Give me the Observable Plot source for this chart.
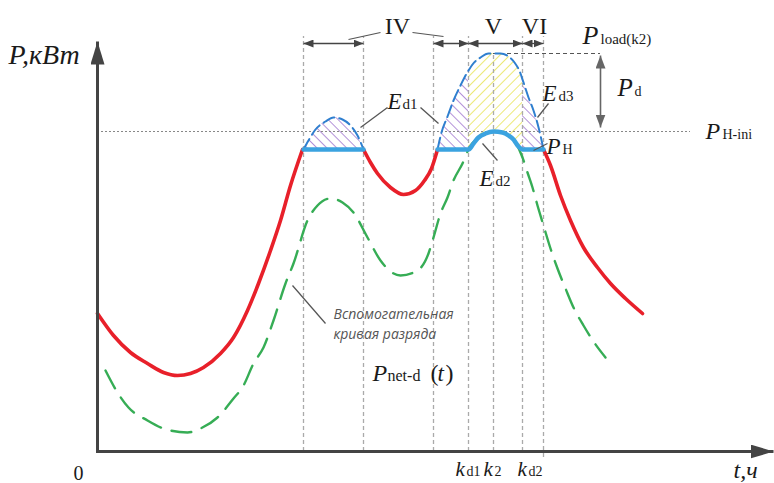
<!DOCTYPE html>
<html><head><meta charset="utf-8">
<script src="https://cdn.jsdelivr.net/npm/d3@7"></script>
<script src="https://cdn.jsdelivr.net/npm/@observablehq/plot@0.6"></script>
<style>body{margin:0;background:#fff}</style>
</head><body><div id="chart"></div>
<script>
// ---- data (t = time units, P = power units) ----
const P_H = 302;        // flat discharge level P_H
const P_HINI = 320;     // P_H-ini
const P_LOAD_K2 = 398;  // P_load(k2)
const redLeft  = [[0,138],[16,116],[33,99],[50,88],[66,79],[80,76],[93,78],[106,84],[123,98],[136,114],[150,141],[161,168],[173,201],[183,231],[193,266],[205,302]];
const redDip   = [[266,302],[273,289],[280,278],[293,264],[306,257],[318,261],[327,271],[334,283],[340,302]];
const redRight = [[446,302],[453,286],[463,256],[473,231],[486,204],[500,184],[513,168],[528,153],[545,138]];
const blueFlatA = [[206,302],[266,302]];
const blueFlatB = [[340,302],[371,302],[376,308],[381,314],[388,318],[396,320],[405,319],[411,316],[416,312],[421,305],[425,302],[446,302]];
const loadBump1 = [[206,302],[211,311],[218,322],[228,330],[236,334],[245,332],[253,326],[260,316],[266,302]];
const loadBump2 = [[340,302],[344,319],[350,335],[356,351],[363,366],[368,376],[371,381],[375,387],[383,394],[391,398],[403,398],[411,395],[417,389],[423,378],[425,372],[427,366],[431,354],[436,341],[440,328],[443,316],[446,302]];
const auxCurve = [[8,81],[20,59],[31,44],[50,31],[66,23],[90,19],[103,23],[120,34],[136,53],[146,66],[156,88],[166,104],[176,131],[188,168],[196,188],[210,231],[220,246],[233,253],[245,249],[256,239],[270,214],[283,191],[303,176],[320,181],[331,198],[336,214],[343,238],[350,254],[356,271],[365,288],[371,302],[381,314],[388,318],[396,320],[405,319],[411,316],[416,312],[425,294],[430,279],[435,264],[440,246],[446,226],[453,203],[460,183],[468,163],[476,144],[486,126],[496,110],[508,94]];
const guideT   = [206,266,336,371,396,425,446];
const guideTop = [415,415,415,415,399,415,415];
const guideBot = [0,0,0,0,0,0,-6];
const spans    = [[206,266],[336,371],[371,425],[425,446]];
const romanLabels = ["IV","V","VI"];
const romanT      = [300,396,437];
const kNames = ["k","k","k"];
const kSubs  = ["d1","2","d2"];
const kT     = [358,386,420];
const kSubT  = [369,397,431];
const auxText = ["Вспомогательная","кривая разряда"];
const leaders = [[251,412,283,419],[315,419,346,415],[263,324,290,344],[323,344,341,328],[385,308,400,291],[440,334,451,348],[436,301,450,308],[195,166,228,128]];

// ---- build tables ----
const pts = (arr) => arr.map(([t,P]) => ({t,P}));
const seg = (arr, s) => arr.map(([t,P]) => ({t,P,s}));
const red = [...seg(redLeft,"a"), ...seg(redDip,"b"), ...seg(redRight,"c")];
const blue = [...seg(blueFlatA,"a"), ...seg(blueFlatB,"b")];
const bump2 = pts(loadBump2);
const guides = guideT.map((t,i)=>({t, top:guideTop[i], bot:guideBot[i]}));
const spanRows = spans.map(([a,b])=>({a,b,P:408}));
const leaderRows = leaders.map(([t1,P1,t2,P2])=>({t1,P1,t2,P2}));

const italicMain = [
  {t:-89,P:388,s:"P,кВт",z:28},
  {t:636,P:-26,s:"t,ч",z:24},
  ...kNames.map((s,i)=>({t:kT[i],P:-24,s,z:21})),
  {t:290,P:343,s:"E",z:23},
  {t:382,P:266,s:"E",z:23},
  {t:445,P:351,s:"E",z:23},
  {t:449,P:298,s:"P",z:23},
  {t:485,P:408,s:"P",z:26},
  {t:520,P:356,s:"P",z:25},
  {t:608,P:313,s:"P",z:24},
  {t:275,P:71,s:"P",z:24},
  {t:340,P:71,s:"t",z:23}
];
const subs = [
  ...kSubs.map((s,i)=>({t:kSubT[i],P:-24,s,z:14})),
  {t:305,P:343,s:"d1",z:15},
  {t:398,P:266,s:"d2",z:15},
  {t:461,P:351,s:"d3",z:15},
  {t:465,P:298,s:"H",z:14},
  {t:503,P:408,s:"load(k2)",z:15},
  {t:537,P:356,s:"d",z:14},
  {t:625,P:313,s:"H-ini",z:14},
  {t:290,P:71,s:"net-d",z:16},
  {t:333,P:71,s:"(",z:24},
  {t:348,P:71,s:")",z:24}
];
const roman = romanLabels.map((s,i)=>({t:romanT[i],P:418,s}));

const serif = "Liberation Serif, Times New Roman, serif";
const curve = "monotone-x";

const chart = Plot.plot({
  width: 774, height: 483, margin: 0,
  x: {domain: [-97, 677], range: [0, 774], axis: null},
  y: {domain: [-32, 451], range: [483, 0], axis: null},
  style: {background: "#fff"},
  marks: [
    // hatched energy areas
    Plot.areaY(pts(loadBump1), {x:"t", y1:P_H, y2:"P", fill:"url(#hatchP)", curve}),
    Plot.areaY(bump2.filter(d=>d.t<=371), {x:"t", y1:P_H, y2:"P", fill:"url(#hatchP)", curve}),
    Plot.areaY(bump2.filter(d=>d.t>=371 && d.t<=425), {x:"t", y1:P_H, y2:"P", fill:"url(#hatchY)", curve}),
    Plot.areaY(bump2.filter(d=>d.t>=425), {x:"t", y1:P_H, y2:"P", fill:"url(#hatchP)", curve}),
    Plot.areaY(blue.filter(d=>d.s==="b" && d.t>=371 && d.t<=425), {x:"t", y1:P_H, y2:"P", fill:"#fff", curve}),
    // reference lines
    Plot.ruleY([P_HINI], {x1:0, x2:593, stroke:"#888", strokeWidth:1, strokeDasharray:"2,2"}),
    Plot.ruleX(guides, {x:"t", y1:"bot", y2:"top", stroke:"#aaa", strokeWidth:1.3, strokeDasharray:"4,3"}),
    Plot.ruleY([P_LOAD_K2], {x1:396, x2:503, stroke:"#555", strokeWidth:1.2, strokeDasharray:"4,3"}),
    // curves
    Plot.line(pts(auxCurve), {x:"t", y:"P", stroke:"#36ad55", strokeWidth:2.4, strokeDasharray:"20,11", curve}),
    Plot.line(red, {x:"t", y:"P", z:"s", stroke:"#e8202a", strokeWidth:3.6, curve}),
    Plot.line(pts(loadBump1), {x:"t", y:"P", stroke:"#2f7fcf", strokeWidth:2, strokeDasharray:"12,5", curve}),
    Plot.line(bump2, {x:"t", y:"P", stroke:"#2f7fcf", strokeWidth:2, strokeDasharray:"12,5", curve}),
    Plot.line(blue, {x:"t", y:"P", z:"s", stroke:"#3ba3e0", strokeWidth:4.5, curve}),
    // dimension arrows and leaders
    Plot.link(spanRows, {x1:"a", x2:"b", y1:"P", y2:"P", stroke:"#444", strokeWidth:1.3, ariaDescription:"dim-arrow", className:"dim-arrow"}),
    Plot.link([{t:503,a:396,b:324}], {x1:"t", x2:"t", y1:"a", y2:"b", stroke:"#666", strokeWidth:1.6, ariaDescription:"pd-arrow", className:"pd-arrow"}),
    Plot.link(leaderRows, {x1:"t1", y1:"P1", x2:"t2", y2:"P2", stroke:"#555", strokeWidth:1.25}),
    // axes
    Plot.link([{x1:-1.5,y1:0,x2:676,y2:0},{x1:0,y1:-1.5,x2:0,y2:410}], {x1:"x1",y1:"y1",x2:"x2",y2:"y2", stroke:"#444", strokeWidth:3, ariaDescription:"axis-arrow", className:"axis-arrow"}),
    // texts
    Plot.text(italicMain, {x:"t", y:"P", text:"s", fontSize:"z", fontFamily:serif, fontStyle:"italic", textAnchor:"start", lineAnchor:"bottom", fill:"#1a1a1a"}),
    Plot.text(subs, {x:"t", y:"P", text:"s", fontSize:"z", fontFamily:serif, textAnchor:"start", lineAnchor:"bottom", fill:"#1a1a1a"}),
    Plot.text(roman, {x:"t", y:"P", text:"s", fontSize:24, fontFamily:serif, textAnchor:"middle", lineAnchor:"bottom", fill:"#1a1a1a"}),
    Plot.text([{t:-19,P:-28,s:"0"}], {x:"t", y:"P", text:"s", fontSize:20, fontFamily:serif, textAnchor:"middle", lineAnchor:"bottom", fill:"#1a1a1a"}),
    Plot.text(auxText.map((s,i)=>({t:236,P:133-20*i,s})), {x:"t", y:"P", text:"s", fontSize:14, fontFamily:"Open Sans, sans-serif", fontStyle:"italic", textAnchor:"start", lineAnchor:"bottom", fill:"#555"})
  ]
});
document.getElementById("chart").appendChild(chart);

// ---- svg defs: hatch patterns and filled arrowheads ----
const svg = d3.select(chart);
const defs = svg.insert("defs", ":first-child");
function hatch(id, color, angle) {
  const p = defs.append("pattern").attr("id", id).attr("patternUnits","userSpaceOnUse")
    .attr("width", 7).attr("height", 7).attr("patternTransform", `rotate(${angle})`);
  p.append("line").attr("x1",0).attr("y1",0).attr("x2",0).attr("y2",7).attr("stroke",color).attr("stroke-width",1.4);
}
hatch("hatchP", "#9462c8", -45);
hatch("hatchY", "#e4e03a", 45);
function marker(id, len, wid, color) {
  const m = defs.append("marker").attr("id", id).attr("viewBox", `0 0 ${len} ${wid}`)
    .attr("refX", len).attr("refY", wid/2).attr("markerWidth", len).attr("markerHeight", wid)
    .attr("markerUnits","userSpaceOnUse").attr("orient","auto-start-reverse");
  m.append("path").attr("d", `M0,0L${len},${wid/2}L0,${wid}Z`).attr("fill", color);
}
marker("mkDim", 10, 8, "#444");
marker("mkPd", 13, 10, "#666");
marker("mkAxis", 23, 14, "#444");
function pick(name) {
  return svg.selectAll(`g[aria-description="${name}"] path, g.${name} path`);
}
pick("dim-arrow").attr("marker-start","url(#mkDim)").attr("marker-end","url(#mkDim)");
pick("pd-arrow").attr("marker-start","url(#mkPd)").attr("marker-end","url(#mkPd)");
pick("axis-arrow").attr("marker-end","url(#mkAxis)");
</script>
</body></html>
